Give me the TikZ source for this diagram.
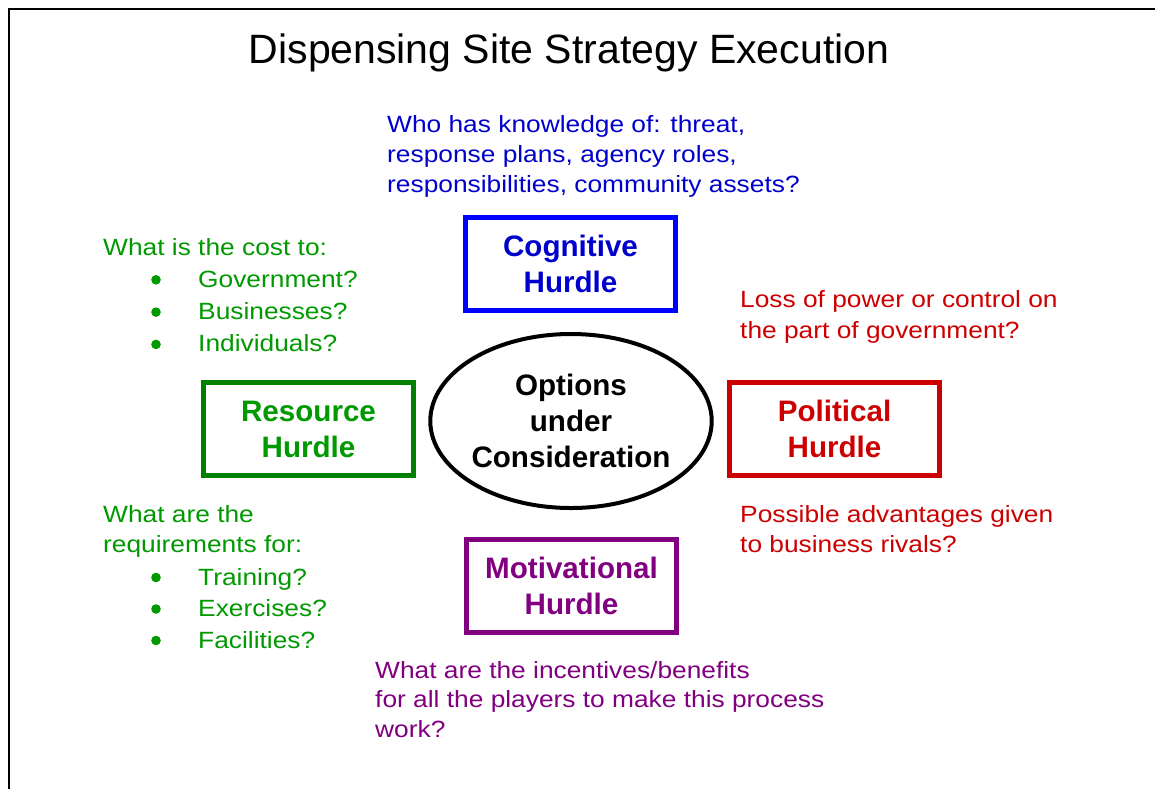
\documentclass[tikz,border=0pt]{standalone}
\usepackage{fontspec}
\setmainfont{Liberation Sans}
\newfontfamily\bodyfont{Liberation Sans}[FakeStretch=1.12]
\usetikzlibrary{shapes.geometric}

\definecolor{cogblue}{RGB}{0,0,255}
\definecolor{cogtext}{RGB}{0,0,204}
\definecolor{resgreen}{RGB}{0,128,0}
\definecolor{restext}{RGB}{0,153,0}
\definecolor{polred}{RGB}{204,0,0}
\definecolor{motpurple}{RGB}{128,0,128}

\begin{document}
\begin{tikzpicture}[x=1pt, y=-1pt,
    hurdle/.style={
        draw,
        line width=5pt,
        minimum width=210pt,
        minimum height=93pt,
        inner sep=0pt,
        align=center,
        font=\fontsize{29.6}{36}\selectfont\bfseries
    },
    question/.style={
        anchor=base west,
        inner sep=0pt,
        align=left,
        font=\bodyfont\fontsize{23.5}{30.5}\selectfont
    }
]

\useasboundingbox (0,0) rectangle (1155,788);

%%%%%%%%%%%%%%%%%%%%%%%%
% Frame and title
%%%%%%%%%%%%%%%%%%%%%%%%

\draw[line width=2pt] (9,800) -- (9,9) -- (1170,9);

\node[anchor=base, font=\fontsize{41}{48}\selectfont] (title) at (569,63)
    {Dispensing Site Strategy Execution};

%%%%%%%%%%%%%%%%%%%%%%%%
% Centre
%%%%%%%%%%%%%%%%%%%%%%%%

\node[draw, ellipse, line width=4pt, minimum width=262pt, minimum height=174pt,
      inner sep=0pt, align=center, font=\fontsize{29.6}{36}\selectfont\bfseries]
    (options) at (571,421) {Options\\under\\Consideration};

%%%%%%%%%%%%%%%%%%%%%%%%
% Hurdles
%%%%%%%%%%%%%%%%%%%%%%%%

\node[hurdle, draw=cogblue, text=cogtext] (cognitive) at (570.5,264) {Cognitive\\Hurdle};
\node[hurdle, draw=resgreen, text=restext] (resource) at (308.5,429) {Resource\\Hurdle};
\node[hurdle, draw=polred, text=polred] (political) at (834.5,428.5) {Political\\Hurdle};
\node[hurdle, draw=motpurple, text=motpurple] (motivational) at (571.5,586) {Motivational\\Hurdle};

%%%%%%%%%%%%%%%%%%%%%%%%
% Questions (placed at the baseline of their last line)
%%%%%%%%%%%%%%%%%%%%%%%%

% --- Cognitive ---
\node[question, text=cogtext, font=\bodyfont\fontsize{23.5}{30}\selectfont] (cogq) at (387,192)
    {Who has knowledge of: threat,\\
     response plans, agency roles,\\
     responsibilities, community assets?};

% --- Resource ---
\node[question, text=restext] (resq1) at (103,255) {What is the cost to:};
\foreach \entry [count=\i] in {Government?, Businesses?, Individuals?} {
    \node[question, text=restext] (cost\i) at (198,255+32.3*\i) {\entry};
    \fill[restext] (156,255+32.3*\i-7.5) circle (4.8pt);
}

\node[question, text=restext, font=\bodyfont\fontsize{23.5}{30}\selectfont] (resq2) at (103,552)
    {What are the\\
     requirements for:};
\foreach \entry [count=\i] in {Training?, Exercises?, Facilities?} {
    \node[question, text=restext] (need\i) at (198,553.5+31.5*\i) {\entry};
    \fill[restext] (156,553.5+31.5*\i-7.5) circle (4.8pt);
}

% --- Political ---
\node[question, text=polred, font=\bodyfont\fontsize{23.5}{31}\selectfont] (polq1) at (740,338)
    {Loss of power or control on\\
     the part of government?};
\node[question, text=polred, font=\bodyfont\fontsize{23.5}{30}\selectfont] (polq2) at (740,552)
    {Possible advantages given\\
     to business rivals?};

% --- Motivational ---
\node[question, text=motpurple, font=\bodyfont\fontsize{23.5}{29.5}\selectfont] (motq) at (375,737)
    {What are the incentives/benefits\\
     for all the players to make this process\\
     work?};

\end{tikzpicture}
\end{document}
